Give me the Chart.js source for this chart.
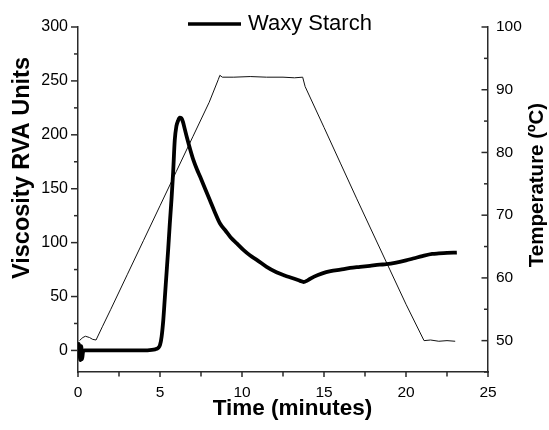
<!DOCTYPE html>
<html>
<head>
<meta charset="utf-8">
<script src="https://cdn.jsdelivr.net/npm/chart.js@4.4.1/dist/chart.umd.min.js"></script>
<style>
html,body{margin:0;padding:0;background:#fff;}
#wrap{position:relative;width:549px;height:430px;}
</style>
</head>
<body>
<div id="wrap"><canvas id="c" width="549" height="430"></canvas></div>
<script>
// ---- data ----
const seriesName = "Waxy Starch";
const xTitle = "Time (minutes)";
const yLeftTitle = "Viscosity RVA Units";
const yRightTitle = "Temperature (ºC)";

const visTime = [0, 0.05, 0.1, 0.15, 0.2, 0.25, 0.3, 0.4, 1, 2, 3, 4, 4.5, 4.7, 4.8, 4.9, 5.0, 5.1, 5.2, 5.3, 5.4, 5.5, 5.6, 5.7, 5.8, 5.9, 6.0, 6.1, 6.2, 6.3, 6.4, 6.5, 6.65, 6.85, 7.05, 7.25, 7.45, 7.75, 8.05, 8.35, 8.65, 9.0, 9.3, 9.7, 10.1, 10.5, 10.9, 11.5, 12.1, 12.6, 13.1, 13.55, 13.75, 14.0, 14.4, 14.9, 15.4, 16.0, 16.6, 17.2, 17.8, 18.4, 18.8, 19.4, 20.0, 20.5, 21.0, 21.6, 22.0, 22.5, 23.1];
const visValues = [0, 6, -4, -9, 4, -8, -2, 0, 0, 0, 0, 0, 0.5, 1, 1.5, 2.5, 5, 13, 28, 50, 72, 94, 118, 140, 165, 195, 208, 213, 216, 215.5, 212, 206, 197, 186, 176, 168, 161, 150, 139, 128, 118, 111, 105, 99, 93, 88, 84, 77.5, 72.5, 69.5, 67, 64.5, 63.5, 65, 68.5, 71.5, 73.5, 75, 76.5, 77.5, 78.5, 79.5, 80, 81.5, 83.5, 85.5, 87.5, 89.5, 90, 90.5, 90.8];

const tempTime = [0.1, 0.2, 0.3, 0.45, 0.7, 0.9, 1.1, 1.5, 2, 3, 4, 5, 6, 7, 8, 8.55, 8.65, 8.8, 9.5, 10.5, 11.5, 12.5, 13.2, 13.7, 13.85, 15, 16, 17, 18, 19, 20, 21.1, 21.5, 22, 22.5, 23];
const tempValues = [50.0, 50.3, 50.5, 50.7, 50.5, 50.2, 50.1, 52.3, 55.0, 60.5, 66.0, 71.5, 77.0, 82.5, 88.0, 91.6, 92.3, 92.0, 92.0, 92.1, 92.0, 92.0, 91.9, 92.0, 90.5, 84.0, 78.3, 72.6, 67.0, 61.4, 55.8, 50.0, 50.1, 49.9, 50.0, 49.9];

const xTicks = [0, 5, 10, 15, 20, 25];
const xMinorTicks = [2.5, 7.5, 12.5, 17.5, 22.5];
const yLeftTicks = [0, 50, 100, 150, 200, 250, 300];
const yLeftMinorTicks = [25, 75, 125, 175, 225, 275];
const yRightTicks = [50, 60, 70, 80, 90, 100];
const yRightMinorTicks = [45, 55, 65, 75, 85, 95];

// ---- chart ----
const FONT = "'Liberation Sans', Arial, Helvetica, sans-serif";
const axisColor = '#2a2a2a';

const decorPlugin = {
  id: 'decor',
  afterDraw(chart) {
    const ctx = chart.ctx;
    const xs = chart.scales.x, yl = chart.scales.y, yr = chart.scales.y2;
    ctx.save();
    ctx.strokeStyle = axisColor;
    ctx.lineWidth = 1.5;
    const line = (x1, y1, x2, y2) => { ctx.beginPath(); ctx.moveTo(x1, y1); ctx.lineTo(x2, y2); ctx.stroke(); };
    // left ticks (outward)
    const lx = yl.right;
    yLeftTicks.forEach(v => { const p = yl.getPixelForValue(v); line(lx - 7, p, lx, p); });
    yLeftMinorTicks.forEach(v => { const p = yl.getPixelForValue(v); line(lx - 4, p, lx, p); });
    // right ticks (inward)
    const rx = yr.left;
    yRightTicks.forEach(v => { const p = yr.getPixelForValue(v); line(rx - 6.5, p, rx, p); });
    yRightMinorTicks.forEach(v => { const p = yr.getPixelForValue(v); line(rx - 4, p, rx, p); });
    // bottom ticks (outward)
    const by = xs.top;
    xTicks.forEach(v => { const p = xs.getPixelForValue(v); line(p, by, p, by + 5); });
    xMinorTicks.forEach(v => { const p = xs.getPixelForValue(v); line(p, by, p, by + 4.5); });

    // titles
    ctx.fillStyle = '#000';
    ctx.textAlign = 'center';
    ctx.textBaseline = 'middle';
    ctx.font = "bold 22.5px " + FONT;
    ctx.fillText(xTitle, 292.5, 409);
    ctx.save();
    ctx.font = "bold 23.5px " + FONT;
    ctx.translate(23, 168);
    ctx.rotate(-Math.PI / 2);
    ctx.fillText(yLeftTitle, 0, 0);
    ctx.restore();
    ctx.save();
    ctx.font = "bold 20.5px " + FONT;
    ctx.translate(537, 185);
    ctx.rotate(-Math.PI / 2);
    ctx.fillText(yRightTitle, 0, 0);
    ctx.restore();

    // legend
    ctx.strokeStyle = '#000';
    ctx.lineWidth = 3.5;
    line(188, 24, 241, 24);
    ctx.font = "22px " + FONT;
    ctx.textAlign = 'left';
    ctx.fillText(seriesName, 248, 24);
    ctx.restore();
  }
};

new Chart(document.getElementById('c'), {
  type: 'line',
  data: {
    datasets: [
      {
        label: seriesName,
        data: visTime.map((t, i) => ({x: t, y: visValues[i]})),
        yAxisID: 'y',
        borderColor: '#000',
        borderWidth: 3.8,
        pointRadius: 0,
        cubicInterpolationMode: 'monotone',
        fill: false
      },
      {
        label: 'Temperature',
        data: tempTime.map((t, i) => ({x: t, y: tempValues[i]})),
        yAxisID: 'y2',
        borderColor: '#111',
        borderWidth: 1,
        pointRadius: 0,
        tension: 0,
        fill: false
      }
    ]
  },
  options: {
    responsive: false,
    animation: false,
    devicePixelRatio: 1,
    layout: {padding: {top: 27, left: 0, right: 0, bottom: 0}},
    plugins: {legend: {display: false}, tooltip: {enabled: false}},
    scales: {
      x: {
        type: 'linear', position: 'bottom', min: 0, max: 25,
        afterBuildTicks: s => { s.ticks = xTicks.map(v => ({value: v})); },
        afterFit: s => { s.height = 58; },
        grid: {display: false, drawTicks: false},
        border: {display: true, color: axisColor, width: 1.5},
        ticks: {padding: 11, color: '#000', font: {family: FONT, size: 15.5}, maxRotation: 0, autoSkip: false}
      },
      y: {
        type: 'linear', position: 'left', min: -20, max: 300,
        afterBuildTicks: s => { s.ticks = yLeftTicks.map(v => ({value: v})); },
        afterFit: s => { s.width = 78; },
        grid: {display: false, drawTicks: false},
        border: {display: true, color: axisColor, width: 1.5},
        ticks: {padding: 10, color: '#000', font: {family: FONT, size: 16}, autoSkip: false}
      },
      y2: {
        type: 'linear', position: 'right', min: 45, max: 100,
        afterBuildTicks: s => { s.ticks = yRightTicks.map(v => ({value: v})); },
        afterFit: s => { s.width = 61; },
        grid: {display: false, drawTicks: false},
        border: {display: true, color: axisColor, width: 1.5},
        ticks: {padding: 8, color: '#000', font: {family: FONT, size: 15.5}, autoSkip: false}
      }
    }
  },
  plugins: [decorPlugin]
});
</script>
</body>
</html>
